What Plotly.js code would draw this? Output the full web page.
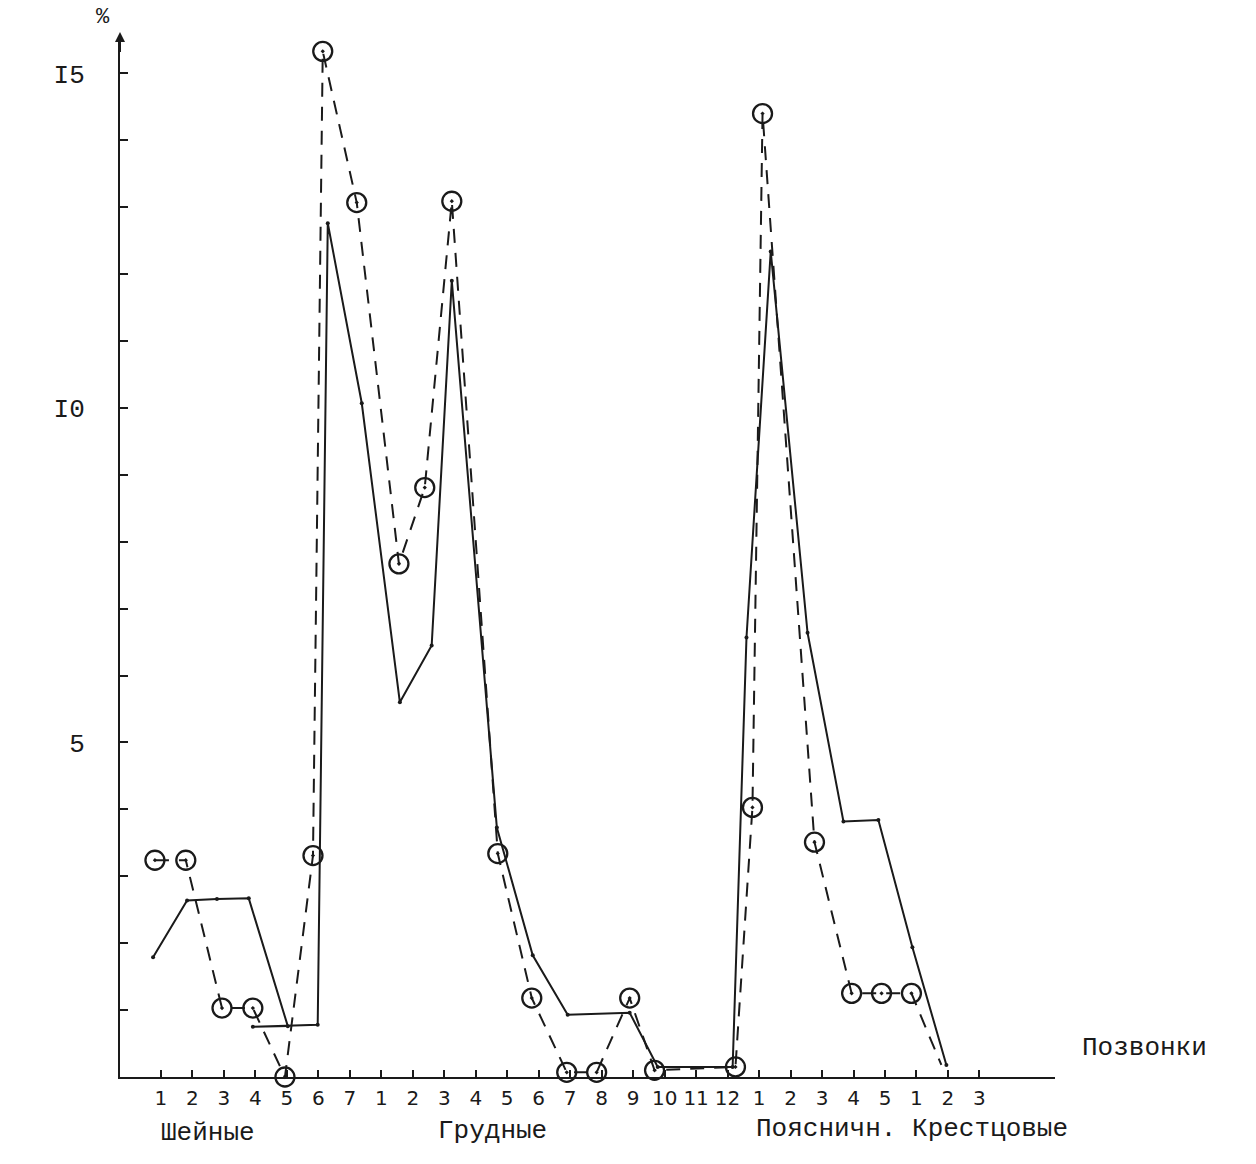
<!DOCTYPE html>
<html>
<head>
<meta charset="utf-8">
<script src="https://cdn.plot.ly/plotly-3.0.1.min.js"></script>
<style>
  html, body { margin: 0; padding: 0; background: #ffffff; }
  #chart { width: 1256px; height: 1164px; }
</style>
</head>
<body>
<div id="chart"></div>
<script>
// vertebra positions along the x axis (1..27) and their labels
var tickPos = [1, 2, 3, 4, 5, 6, 7, 8, 9, 10, 11, 12, 13, 14, 15, 16, 17, 18, 19, 20, 21, 22, 23, 24, 25, 26, 27];
var tickText = ["1", "2", "3", "4", "5", "6", "7",
                "1", "2", "3", "4", "5", "6", "7", "8", "9", "10", "11", "12",
                "1", "2", "3", "4", "5",
                "1", "2", "3"];

var yTickVals = [1, 2, 3, 4, 5, 6, 7, 8, 9, 10, 11, 12, 13, 14, 15];
var yTickText = ["", "", "", "", "5", "", "", "", "", "I0", "", "", "", "", "I5"];

// solid line (dots), as drawn by hand
var solidX = [0.75, 1.83, 2.78, 3.79, 5.03, 3.92, 5.98, 6.30, 7.38, 8.59, 9.60, 10.24, 11.67, 12.81, 13.92, 15.89, 16.78, 19.16, 19.60, 20.37, 21.54, 22.68, 23.79, 24.87, 25.95];
var solidY = [1.79, 2.64, 2.66, 2.67, 0.76, 0.75, 0.78, 12.76, 10.07, 5.60, 6.45, 11.90, 3.73, 1.82, 0.93, 0.96, 0.15, 0.15, 6.57, 12.34, 6.64, 3.82, 3.84, 1.94, 0.18];

// dashed line (circles)
var dashX = [0.81, 1.79, 2.94, 3.92, 4.94, 5.83, 6.14, 7.22, 8.56, 9.38, 10.24, 11.70, 12.78, 13.89, 14.84, 15.89, 16.68, 19.25, 19.79, 20.11, 21.76, 22.94, 23.89, 24.84, 25.79];
var dashY = [3.24, 3.24, 1.03, 1.03, 0.0, 3.31, 15.33, 13.07, 7.67, 8.81, 13.09, 3.34, 1.18, 0.07, 0.07, 1.18, 0.10, 0.15, 4.03, 14.40, 3.51, 1.25, 1.25, 1.25, 0.18];

var ink = "#1a1a1a";
var mono = "Liberation Mono, DejaVu Sans Mono, monospace";

var traces = [
    {
        x: solidX, y: solidY, type: "scatter", mode: "lines+markers",
        line: { color: ink, width: 2 },
        marker: { color: ink, size: 4 },
        cliponaxis: false, showlegend: false, hoverinfo: "skip"
    },
    {
        x: dashX, y: dashY, type: "scatter", mode: "lines",
        line: { color: ink, width: 2, dash: "14px,10px" },
        cliponaxis: false, showlegend: false, hoverinfo: "skip"
    },
    {
        // last point of the dashed line has no circle
        x: dashX.slice(0, -1), y: dashY.slice(0, -1), type: "scatter", mode: "markers",
        marker: { symbol: "circle-open-dot", color: ink, size: 19, line: { color: ink, width: 2.3 } },
        cliponaxis: false, showlegend: false, hoverinfo: "skip"
    }
];

function label(text, x, y, xref, size) {
    return {
        text: text, x: x, y: y, xref: xref, yref: "paper",
        xanchor: "center", yanchor: "middle", showarrow: false,
        font: { family: mono, size: size, color: ink }
    };
}

var layout = {
    width: 1256,
    height: 1164,
    margin: { l: 120, r: 201, t: 40, b: 87 },
    paper_bgcolor: "#ffffff",
    plot_bgcolor: "#ffffff",
    font: { family: mono, color: ink },
    xaxis: {
        range: [-0.3, 29.4],
        tickmode: "array",
        tickvals: tickPos,
        ticktext: tickText,
        ticks: "inside",
        ticklen: 7,
        tickwidth: 2,
        tickcolor: ink,
        ticklabelstandoff: 2,
        tickfont: { family: "DejaVu Sans, sans-serif", size: 20, color: ink },
        showgrid: false,
        zeroline: false,
        showline: true,
        linecolor: ink,
        linewidth: 2
    },
    yaxis: {
        range: [0, 15.5],
        tickmode: "array",
        tickvals: yTickVals,
        ticktext: yTickText,
        ticks: "inside",
        ticklen: 8,
        tickwidth: 2,
        tickcolor: ink,
        ticklabelstandoff: 28,
        tickfont: { family: mono, size: 26, color: ink },
        showgrid: false,
        zeroline: false,
        showline: true,
        linecolor: ink,
        linewidth: 2
    },
    annotations: [
        {
            // arrow head on top of the y axis
            x: -0.3, y: 15.62, xref: "x", yref: "y",
            ax: -0.3, ay: 15.3, axref: "x", ayref: "y",
            showarrow: true, arrowhead: 2, arrowsize: 1, arrowwidth: 2, arrowcolor: ink, text: ""
        },
        label("%", -0.018, 1.022, "paper", 22),
        label("Позвонки", 1.096, 0.028, "paper", 26),
        label("Шейные", 2.49, -0.054, "x", 26),
        label("Грудные", 11.54, -0.052, "x", 26),
        label("Поясничн. Крестцовые", 24.87, -0.05, "x", 26)
    ]
};

var config = { displayModeBar: false, staticPlot: true };

Plotly.newPlot(document.getElementById("chart"), traces, layout, config);
</script>
</body>
</html>
